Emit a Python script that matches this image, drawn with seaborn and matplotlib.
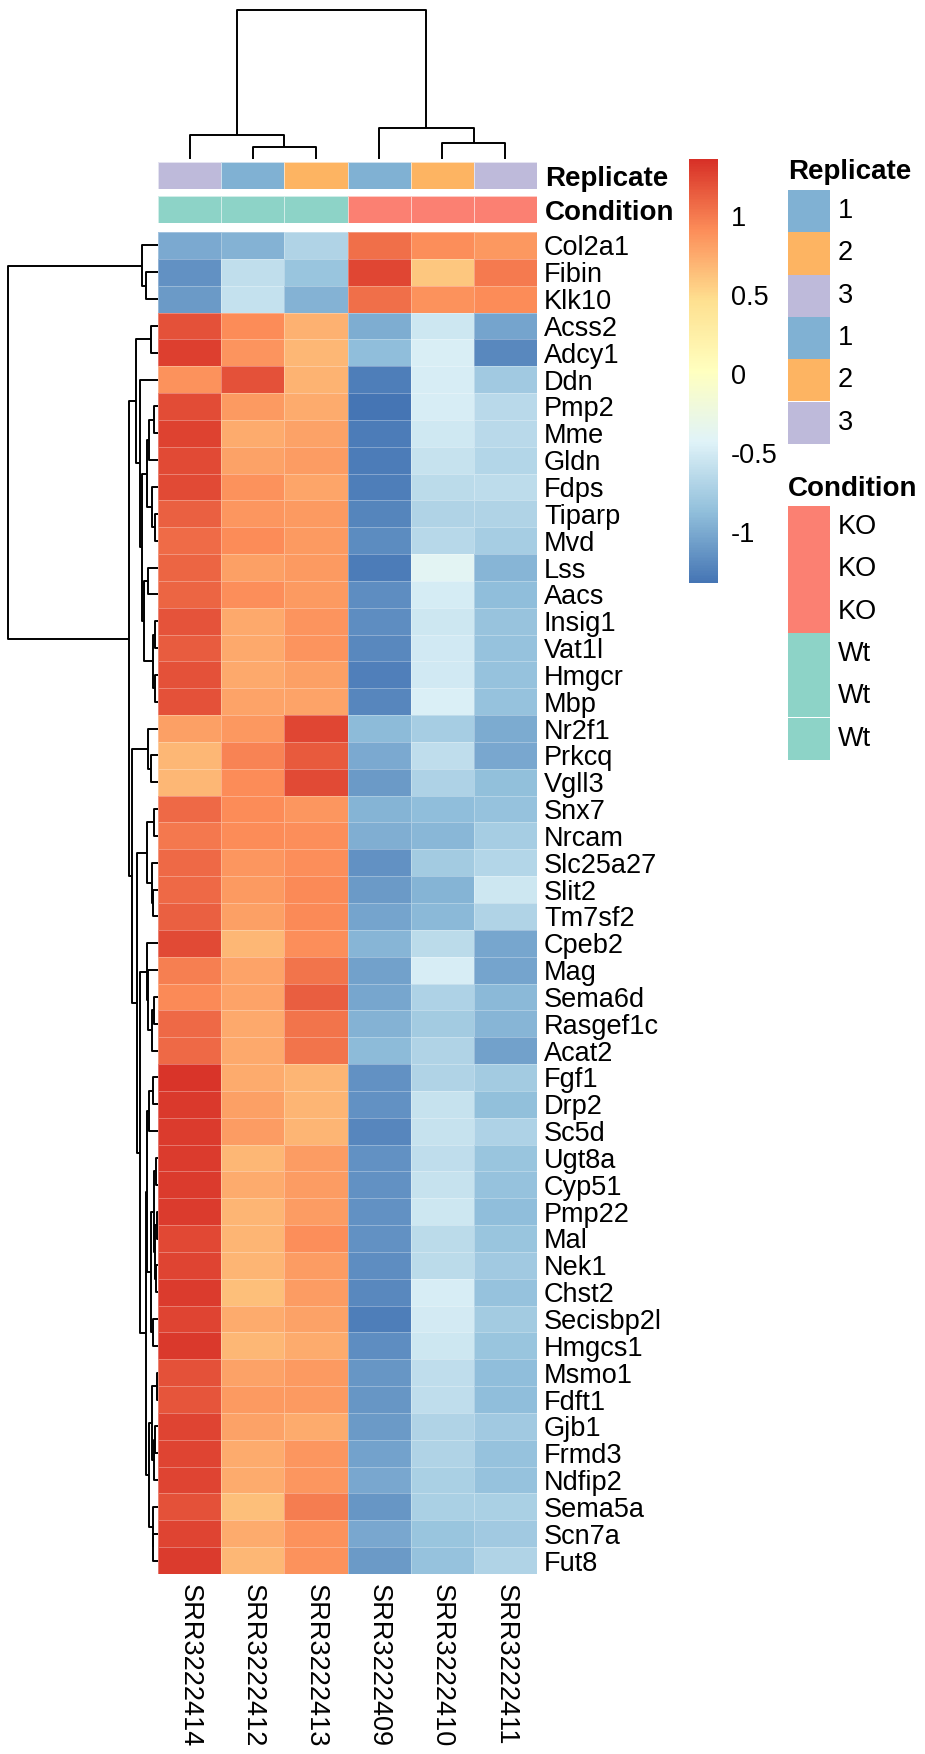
import numpy as np
import pandas as pd
import matplotlib
matplotlib.use("Agg")
import matplotlib.pyplot as plt
import seaborn as sns
from matplotlib.colors import LinearSegmentedColormap, ListedColormap
from matplotlib.patches import Rectangle

plt.rcParams["font.family"] = ["Liberation Sans", "DejaVu Sans"]
FS = 19.5

samples = ["SRR3222414", "SRR3222412", "SRR3222413",
           "SRR3222409", "SRR3222410", "SRR3222411"]
replicate = ["3", "1", "2", "1", "2", "3"]
condition = ["Wt", "Wt", "Wt", "KO", "KO", "KO"]

genes = ["Col2a1", "Fibin", "Klk10", "Acss2", "Adcy1", "Ddn", "Pmp2", "Mme",
         "Gldn", "Fdps", "Tiparp", "Mvd", "Lss", "Aacs", "Insig1", "Vat1l",
         "Hmgcr", "Mbp", "Nr2f1", "Prkcq", "Vgll3", "Snx7", "Nrcam",
         "Slc25a27", "Slit2", "Tm7sf2", "Cpeb2", "Mag", "Sema6d", "Rasgef1c",
         "Acat2", "Fgf1", "Drp2", "Sc5d", "Ugt8a", "Cyp51", "Pmp22", "Mal",
         "Nek1", "Chst2", "Secisbp2l", "Hmgcs1", "Msmo1", "Fdft1", "Gjb1",
         "Frmd3", "Ndfip2", "Sema5a", "Scn7a", "Fut8"]

# row-scaled expression, one row per gene, columns in sample order
zscore = [
    [-1.00, -0.95, -0.70, 1.05, 0.90, 0.85],
    [-1.15, -0.60, -0.82, 1.25, 0.60, 1.00],
    [-1.10, -0.58, -0.95, 1.05, 0.88, 0.92],
    [1.20, 0.91, 0.72, -0.98, -0.53, -1.03],
    [1.28, 0.87, 0.68, -0.88, -0.47, -1.20],
    [0.88, 1.20, 0.71, -1.26, -0.48, -0.78],
    [1.22, 0.84, 0.75, -1.32, -0.48, -0.65],
    [1.27, 0.75, 0.80, -1.27, -0.52, -0.65],
    [1.23, 0.80, 0.83, -1.27, -0.57, -0.68],
    [1.23, 0.88, 0.78, -1.26, -0.63, -0.62],
    [1.12, 0.86, 0.84, -1.22, -0.70, -0.70],
    [1.07, 0.91, 0.84, -1.18, -0.66, -0.75],
    [1.10, 0.81, 0.84, -1.27, -0.38, -0.93],
    [1.10, 0.90, 0.84, -1.17, -0.49, -0.88],
    [1.19, 0.76, 0.87, -1.17, -0.53, -0.83],
    [1.15, 0.76, 0.87, -1.20, -0.51, -0.84],
    [1.20, 0.76, 0.81, -1.25, -0.51, -0.84],
    [1.20, 0.79, 0.79, -1.21, -0.46, -0.84],
    [0.81, 0.85, 1.25, -0.90, -0.75, -0.99],
    [0.68, 0.96, 1.16, -1.00, -0.61, -1.01],
    [0.68, 0.92, 1.23, -1.10, -0.71, -0.86],
    [1.08, 0.92, 0.86, -0.94, -0.87, -0.84],
    [1.01, 0.92, 0.90, -0.97, -0.92, -0.75],
    [1.08, 0.86, 0.90, -1.15, -0.77, -0.68],
    [1.08, 0.84, 0.93, -1.10, -0.94, -0.53],
    [1.12, 0.81, 0.93, -1.03, -0.91, -0.70],
    [1.23, 0.68, 0.90, -0.93, -0.63, -1.02],
    [0.98, 0.79, 1.03, -1.05, -0.48, -1.03],
    [0.93, 0.79, 1.13, -1.02, -0.71, -0.91],
    [1.08, 0.76, 1.03, -0.95, -0.77, -0.93],
    [1.08, 0.76, 1.03, -0.90, -0.70, -1.05],
    [1.33, 0.75, 0.70, -1.15, -0.70, -0.77],
    [1.31, 0.81, 0.70, -1.15, -0.57, -0.86],
    [1.30, 0.83, 0.70, -1.21, -0.57, -0.71],
    [1.30, 0.68, 0.83, -1.15, -0.61, -0.82],
    [1.30, 0.75, 0.83, -1.15, -0.57, -0.84],
    [1.30, 0.70, 0.83, -1.15, -0.53, -0.88],
    [1.24, 0.70, 0.90, -1.15, -0.63, -0.82],
    [1.26, 0.70, 0.83, -1.17, -0.63, -0.78],
    [1.30, 0.64, 0.83, -1.20, -0.48, -0.84],
    [1.26, 0.75, 0.80, -1.26, -0.50, -0.77],
    [1.31, 0.68, 0.75, -1.17, -0.53, -0.82],
    [1.20, 0.80, 0.84, -1.12, -0.61, -0.88],
    [1.18, 0.84, 0.84, -1.12, -0.61, -0.88],
    [1.26, 0.80, 0.75, -1.10, -0.70, -0.78],
    [1.26, 0.75, 0.86, -1.04, -0.70, -0.84],
    [1.26, 0.75, 0.86, -1.01, -0.73, -0.84],
    [1.20, 0.64, 0.99, -1.12, -0.73, -0.73],
    [1.26, 0.75, 0.88, -1.01, -0.82, -0.78],
    [1.30, 0.68, 0.88, -1.10, -0.84, -0.70],
]

# clustering trees: [left, right, merge height], leaves are display positions
col_tree = [[0, [1, 2, 12], 24], [3, [4, 5, 16], 31], 149]

grp_top = [0, [1, 2, 12], 16]
grp_a = [[3, 4, 7],
         [5, [[[[6, 7, 4], 8, 9], [9, [10, 11, 3], 6], 11],
              [[12, 13, 10], [[14, 15, 3], [16, 17, 3], 5.3], 14], 16], 18], 22]
grp_c = [18, [19, 20, 7.3], 10]
grp_d1 = [[21, 22, 4], [23, [24, 25, 5], 6.3], 10.7]
grp_e = [26, [27, [[28, 29, 4], 30, 6.3], 9.7], 11.3]
grp_f1 = [[[31, 32, 5], 33, 9],
          [[[34, 35, 2.3], [[36, 37, 1.5], [38, 39, 2], 3], 4], [40, 41, 4.7], 7.5], 11]
grp_f2 = [[[42, 43, 1.5], [[44, 45, 3], 46, 4.5], 6], [47, [48, 49, 4.7], 5.3], 8.7]
row_tree = [grp_top,
            [grp_a, [grp_c, [grp_d1, [grp_e, [grp_f1, grp_f2, 12], 18], 21], 26.3], 29],
            150]

rep_colors = {"1": "#80B1D3", "2": "#FDB462", "3": "#BEBADA"}
cond_colors = {"KO": "#FB8072", "Wt": "#8DD3C7"}
rep_legend = ["1", "2", "3", "1", "2", "3"]
cond_legend = ["KO", "KO", "KO", "Wt", "Wt", "Wt"]

heat_cmap = LinearSegmentedColormap.from_list(
    "rdylbu", ["#4575B4", "#91BFDB", "#E0F3F8", "#FFFFBF",
               "#FEE090", "#FC8D59", "#D73027"])

W, H = 925, 1754
fig = plt.figure(figsize=(W / 100, H / 100), dpi=100)


def px_axes(x0, y0, x1, y1):
    return fig.add_axes([x0 / W, 1 - y1 / H, (x1 - x0) / W, (y1 - y0) / H])


def draw_tree(ax, node, vertical):
    if isinstance(node, int):
        return node + 0.5, 0.0
    left, right, h = node
    p1, h1 = draw_tree(ax, left, vertical)
    p2, h2 = draw_tree(ax, right, vertical)
    pos = [p1, p1, p2, p2]
    hts = [h1, h, h, h2]
    if vertical:
        ax.plot(pos, hts, color="black", lw=1.4, clip_on=False,
                solid_capstyle="butt")
    else:
        ax.plot(hts, pos, color="black", lw=1.4, clip_on=False,
                solid_capstyle="butt")
    return (p1 + p2) / 2, h


df = pd.DataFrame(zscore, index=genes, columns=samples)
vmin, vmax = -1.32, 1.36

ax_hm = px_axes(158, 232, 537, 1574)
ax_cb = px_axes(689, 159, 718, 583)
sns.heatmap(df, ax=ax_hm, cbar_ax=ax_cb, cmap=heat_cmap, vmin=vmin, vmax=vmax,
            linewidths=0.4, linecolor=(1, 1, 1, 0.3),
            xticklabels=samples, yticklabels=genes)
ax_hm.yaxis.tick_right()
ax_hm.tick_params(axis="y", length=0, pad=5)
ax_hm.tick_params(axis="x", length=0, pad=7)
for lab in ax_hm.get_yticklabels():
    lab.set_rotation(0)
    lab.set_fontsize(FS)
for lab in ax_hm.get_xticklabels():
    lab.set_rotation(270)
    lab.set_va("top")
    lab.set_ha("center")
    lab.set_fontsize(FS)
ax_hm.set_xlabel("")
ax_hm.set_ylabel("")

cb = ax_hm.collections[0].colorbar
cb.outline.set_visible(False)
cb.set_ticks([-1, -0.5, 0, 0.5, 1])
cb.set_ticklabels(["-1", "-0.5", "0", "0.5", "1"])
ax_cb.tick_params(length=0, pad=9)
for lab in ax_cb.get_yticklabels():
    lab.set_fontsize(FS)

# column annotations
rep_levels = sorted(rep_colors)
cond_levels = sorted(cond_colors)
for (y0, y1), values, levels, cmap_dict, title in [
        ((162, 189), replicate, rep_levels, rep_colors, "Replicate"),
        ((196, 223), condition, cond_levels, cond_colors, "Condition")]:
    ax_an = px_axes(158, y0, 537, y1)
    codes = pd.DataFrame([[levels.index(v) for v in values]],
                         index=[title], columns=samples)
    sns.heatmap(codes, ax=ax_an, cmap=ListedColormap([cmap_dict[l] for l in levels]),
                vmin=-0.5, vmax=len(levels) - 0.5, cbar=False,
                linewidths=0.6, linecolor=(1, 1, 1, 0.6),
                xticklabels=False, yticklabels=[title])
    ax_an.yaxis.tick_right()
    ax_an.tick_params(axis="y", length=0, pad=6)
    for lab in ax_an.get_yticklabels():
        lab.set_rotation(0)
        lab.set_fontsize(20)
        lab.set_fontweight("bold")
    ax_an.set_ylabel("")

# dendrograms
ax_cd = px_axes(158, 10, 537, 159)
draw_tree(ax_cd, col_tree, True)
ax_cd.set_xlim(0, len(samples))
ax_cd.set_ylim(0, 149)
ax_cd.axis("off")

ax_rd = px_axes(8, 232, 158, 1574)
draw_tree(ax_rd, row_tree, False)
ax_rd.set_xlim(150, 0)
ax_rd.set_ylim(len(genes), 0)
ax_rd.axis("off")

# annotation legends
ax_lg = px_axes(780, 140, 925, 780)
ax_lg.set_xlim(780, 925)
ax_lg.set_ylim(780, 140)
ax_lg.axis("off")
box_h = 42.3
for title, labels, colors, title_y, box_top in [
        ("Replicate", rep_legend, rep_colors, 172, 190),
        ("Condition", cond_legend, cond_colors, 489, 506)]:
    ax_lg.text(788, title_y, title, fontsize=20, fontweight="bold",
               ha="left", va="center")
    for k, lab in enumerate(labels):
        top = box_top + k * box_h
        ax_lg.add_patch(Rectangle((788, top), 42, box_h, facecolor=colors[lab],
                                  edgecolor="none"))
        ax_lg.text(838, top + box_h / 2, lab, fontsize=FS, ha="left", va="center")

fig.savefig("out.png", dpi=100)
